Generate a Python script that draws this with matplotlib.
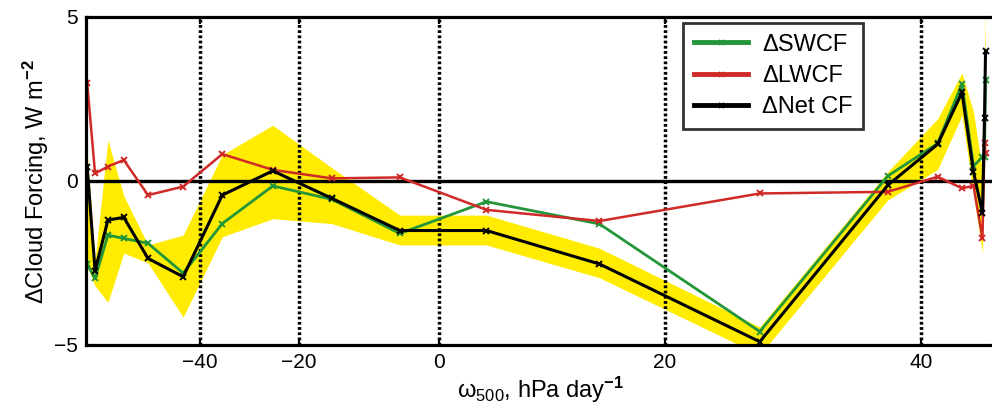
import numpy as np
import matplotlib
matplotlib.use("Agg")
import matplotlib.pyplot as plt

plt.rcParams['font.family'] = ['Liberation Sans', 'DejaVu Sans']
plt.rcParams['mathtext.fontset'] = 'custom'
plt.rcParams['mathtext.rm'] = 'Liberation Sans'
plt.rcParams['mathtext.it'] = 'Liberation Sans'
plt.rcParams['mathtext.bf'] = 'Liberation Sans:bold'

# omega_500 bin centres (hPa/day)
omega = [-62.8, -61.2, -58.6, -55.4, -50.5, -43.4, -35.5, -25.3, -15.3, -5.6,
         4.2, 14.2, 27.4, 37.4, 41.3, 43.2, 44.1, 44.8, 44.96, 45.04]
# cloud forcing changes per bin (W m-2)
dswcf = [-2.53, -2.97, -1.65, -1.75, -1.90, -2.81, -1.30, -0.15, -0.56, -1.60,
         -0.63, -1.31, -4.59, 0.15, 1.15, 2.96, 0.45, 0.74, 0.74, 3.08]
dlwcf = [3.00, 0.23, 0.44, 0.64, -0.43, -0.17, 0.82, 0.34, 0.08, 0.11,
         -0.88, -1.22, -0.38, -0.33, 0.13, -0.22, -0.15, -1.75, 1.15, 0.85]
dnet = [0.44, -2.73, -1.19, -1.11, -2.36, -2.92, -0.43, 0.31, -0.53, -1.51,
        -1.51, -2.53, -4.90, -0.13, 1.12, 2.70, 0.28, -0.98, 1.92, 3.95]
# uncertainty range of the net change
net_lo = [-2.6, -3.2, -3.7, -2.2, -2.5, -4.15, -1.7, -1.15, -1.3, -1.95,
          -1.95, -2.95, -5.3, -0.58, 0.35, 2.0, -0.4, -2.2, 0.5, 2.5]
net_hi = [0.9, -2.4, 1.25, -0.45, -1.95, -1.65, 0.8, 1.7, 0.4, -1.04,
          -1.04, -2.05, -4.45, 0.28, 1.9, 3.3, 2.1, 0.3, 2.8, 5.5]

xticks = [-40, -20, 0, 20, 40]
yticks = [-5, 0, 5]

# x axis is stretched by the cumulative frequency of omega_500 (percent)
omega_knots = np.array([-70, -40, -20, 0, 20, 40, 50], dtype=float)
cdf_knots = np.array([-3.81, 12.58, 23.51, 38.96, 63.91, 92.16, 106.29])


def fwd(x):
    return np.interp(x, omega_knots, cdf_knots)


def inv(p):
    return np.interp(p, cdf_knots, omega_knots)


fig = plt.figure(figsize=(9.92, 4.08), dpi=100)
ax = fig.add_axes([86 / 992, 63 / 408, 909 / 992, 328 / 408])
ax.set_xscale('function', functions=(fwd, inv))

ax.fill_between(omega, net_lo, net_hi, color='#ffec00', lw=0, zorder=1)

for xv in xticks:
    ax.axvline(xv, color='black', lw=2.5, linestyle=(0, (0.8, 0.7)), zorder=1.5)
ax.axhline(0, color='black', lw=2.4, zorder=1.6)

mk = dict(marker='x', markersize=4.5, markeredgewidth=1.4)
ax.plot(omega, dswcf, color='#23963a', lw=2.0, zorder=2, label='ΔSWCF', **mk)
ax.plot(omega, dlwcf, color='#cf2a27', lw=1.8, zorder=2.1, label='ΔLWCF', **mk)
ax.plot(omega, dnet, color='black', lw=2.2, zorder=2.2, label='ΔNet CF', **mk)

ax.set_xlim(-63.03, 45.78)
ax.set_ylim(-5, 5)
ax.set_xticks(xticks)
ax.set_yticks(yticks)
ax.xaxis.set_minor_locator(matplotlib.ticker.NullLocator())
ax.tick_params(direction='in', length=5, width=1.5, labelsize=15,
               top=True, right=True, pad=6)
for s in ax.spines.values():
    s.set_linewidth(2.3)

ax.set_xlabel(r'ω$_{500}$, hPa day$^{\mathbf{-1}}$', fontsize=17, labelpad=2)
ax.set_ylabel(r'ΔCloud Forcing, W m$^{\mathbf{-2}}$', fontsize=17, labelpad=2)

leg = ax.legend(loc='upper left', bbox_to_anchor=(0.657, 0.982), borderaxespad=0,
                fontsize=17, frameon=True, fancybox=False, edgecolor='black',
                handlelength=2.3, handletextpad=0.6, labelspacing=0.4,
                borderpad=0.45, markerscale=0.8)
leg.get_frame().set_linewidth(2.0)
for h in leg.legend_handles:
    h.set_linewidth(3.5)

fig.savefig('out.png', dpi=100)
